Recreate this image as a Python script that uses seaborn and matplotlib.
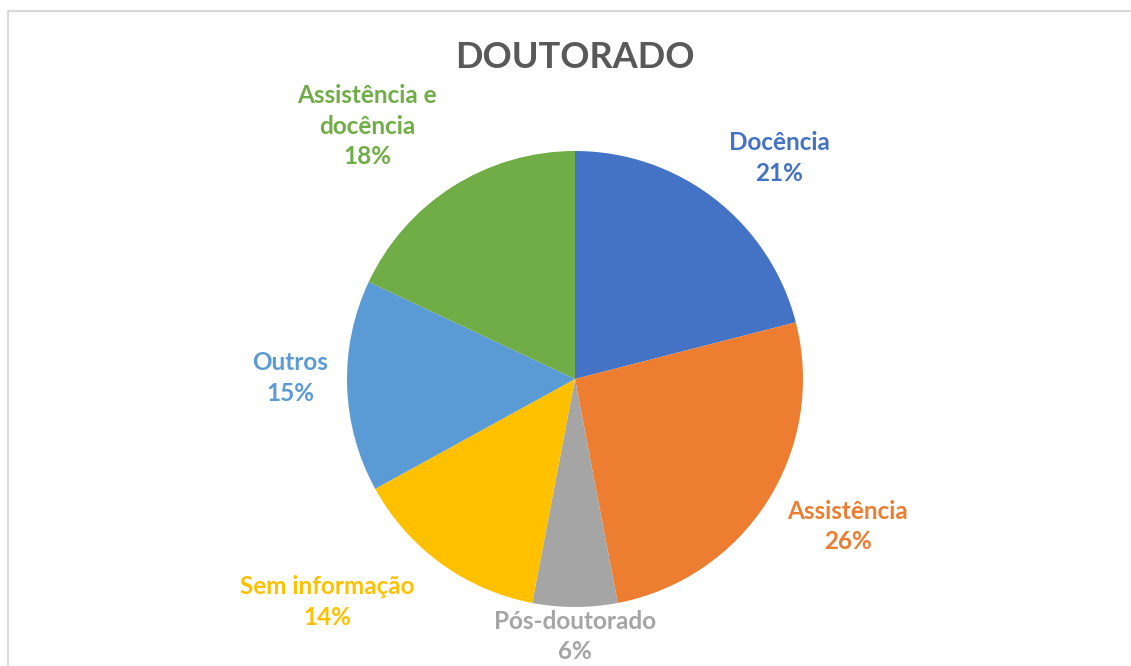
import numpy as np
import matplotlib
matplotlib.use("Agg")
import matplotlib.pyplot as plt
import seaborn as sns

sns.set_theme(style="white")
plt.rcParams['font.family'] = ['Lato', 'DejaVu Sans']

categories = ["Docência", "Assistência", "Pós-doutorado", "Sem informação", "Outros", "Assistência e\ndocência"]
values = [21, 26, 6, 14, 15, 18]
colors = ["#4472C4", "#ED7D31", "#A5A5A5", "#FFC000", "#5B9BD5", "#70AD47"]
label_dist = [1.32, 1.36, 1.13, 1.46, 1.25, 1.435]
label_angle_shift = [-5, 4, 0, -12, -2, 7]

fig = plt.figure(figsize=(11.31, 6.66), dpi=100)
fig.patch.set_facecolor("white")

# chart border
border = plt.Rectangle((8 / 1131, -0.05), 1.2, (666 - 11) / 666 + 0.05, transform=fig.transFigure,
                       fill=False, edgecolor="#D9D9D9", linewidth=1.5)
fig.add_artist(border)

R = 228
cx, cy = 575, 666 - 379
ax = fig.add_axes([(cx - R) / 1131, (cy - R) / 666, 2 * R / 1131, 2 * R / 666])
wedges, _ = ax.pie(values, colors=colors, startangle=90, counterclock=False, radius=1,
                   wedgeprops=dict(linewidth=0))
ax.set_xlim(-1, 1)
ax.set_ylim(-1, 1)
ax.set_aspect("equal")
ax.axis("off")

for w, cat, v, c, d, s in zip(wedges, categories, values, colors, label_dist, label_angle_shift):
    ang = np.deg2rad((w.theta1 + w.theta2) / 2 + s)
    x, y = d * np.cos(ang), d * np.sin(ang)
    ax.text(x, y, f"{cat}\n{v}%", ha="center", va="center", color=c, fontsize=17.5,
            fontweight="bold", linespacing=1.4, clip_on=False)

fig.text(cx / 1131, 1 - 58 / 666, "DOUTORADO", ha="center", va="center", fontsize=26,
         fontweight="bold", color="#595959")

fig.savefig("out.png", dpi=100)
